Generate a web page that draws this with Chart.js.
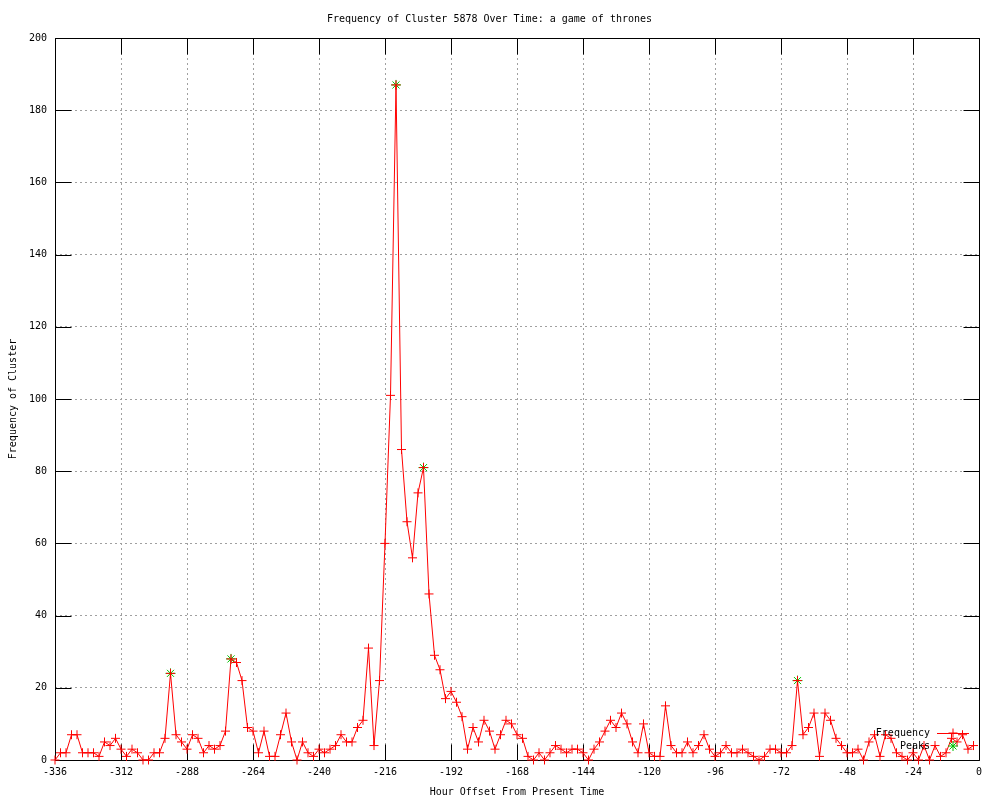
<!DOCTYPE html>
<html>
<head>
<meta charset='utf-8'>
<title>Frequency of Cluster 5878 Over Time</title>
<script src="https://cdn.jsdelivr.net/npm/chart.js@4.4.1/dist/chart.umd.min.js"></script>
<style>body { margin: 0; background: #fff; }</style>
</head>
<body>
<canvas id="chart" width="1000" height="800"></canvas>
<script>
var hours = [
  -336,-334,-332,-330,-328,-326,-324,-322,-320,-318,
  -316,-314,-312,-310,-308,-306,-304,-302,-300,-298,
  -296,-294,-292,-290,-288,-286,-284,-282,-280,-278,
  -276,-274,-272,-270,-268,-266,-264,-262,-260,-258,
  -256,-254,-252,-250,-248,-246,-244,-242,-240,-238,
  -236,-234,-232,-230,-228,-226,-224,-222,-220,-218,
  -216,-214,-212,-210,-208,-206,-204,-202,-200,-198,
  -196,-194,-192,-190,-188,-186,-184,-182,-180,-178,
  -176,-174,-172,-170,-168,-166,-164,-162,-160,-158,
  -156,-154,-152,-150,-148,-146,-144,-142,-140,-138,
  -136,-134,-132,-130,-128,-126,-124,-122,-120,-118,
  -116,-114,-112,-110,-108,-106,-104,-102,-100,-98,
  -96,-94,-92,-90,-88,-86,-84,-82,-80,-78,
  -76,-74,-72,-70,-68,-66,-64,-62,-60,-58,
  -56,-54,-52,-50,-48,-46,-44,-42,-40,-38,
  -36,-34,-32,-30,-28,-26,-24,-22,-20,-18,
  -16,-14,-12,-10,-8,-6,-4,-2
];
var freq = [
  0,2,2,7,7,2,2,2,1,5,
  4,6,3,1,3,2,0,0,2,2,
  6,24,7,5,3,7,6,2,4,3,
  4,8,28,27,22,9,8,2,8,1,
  1,7,13,5,0,5,2,1,3,2,
  3,4,7,5,5,9,11,31,4,22,
  60,101,187,86,66,56,74,81,46,29,
  25,17,19,16,12,3,9,5,11,8,
  3,7,11,10,7,6,1,0,2,0,
  2,4,3,2,3,3,2,0,3,5,
  8,11,9,13,10,5,2,10,2,1,
  1,15,4,2,2,5,2,4,7,3,
  1,2,4,2,2,3,2,1,0,1,
  3,3,2,2,4,22,7,9,13,1,
  13,11,6,4,2,2,3,0,5,7,
  1,7,6,2,1,0,2,0,4,0,
  4,1,2,6,5,7,3,4
];
var peakHours = [-294, -272, -212, -202, -66];
var peakValues = [24, 28, 187, 81, 22];

var freqPoints = hours.map(function(h, i) { return {x: h, y: freq[i]}; });
var peakPoints = peakHours.map(function(h, i) { return {x: h, y: peakValues[i]}; });

var MONO = "'DejaVu Sans Mono', 'Liberation Mono', monospace";
Chart.defaults.font.family = MONO;
Chart.defaults.font.size = 10;
Chart.defaults.color = '#000';

// gnuplot style frame with inward tick marks on all four sides
var framePlugin = {
  id: 'frame',
  beforeDatasetsDraw: function(chart) {
    var ctx = chart.ctx, a = chart.chartArea;
    var xs = chart.scales.x, ys = chart.scales.y;
    var L = Math.round(a.left) + 0.5, R = Math.round(a.right) + 0.5;
    var T = Math.round(a.top) + 0.5, B = Math.round(a.bottom) + 0.5;
    ctx.save();
    ctx.strokeStyle = '#000';
    ctx.lineWidth = 1;
    ctx.beginPath();
    xs.ticks.forEach(function(t) {
      var px = Math.round(xs.getPixelForValue(t.value)) + 0.5;
      ctx.moveTo(px, B); ctx.lineTo(px, B - 16);
      ctx.moveTo(px, T); ctx.lineTo(px, T + 16);
    });
    ys.ticks.forEach(function(t) {
      var py = Math.round(ys.getPixelForValue(t.value)) + 0.5;
      ctx.moveTo(L, py); ctx.lineTo(L + 16, py);
      ctx.moveTo(R, py); ctx.lineTo(R - 16, py);
    });
    ctx.rect(L, T, R - L, B - T);
    ctx.stroke();
    ctx.restore();
  }
};

// key inside the plot, bottom right
var keyPlugin = {
  id: 'key',
  afterDatasetsDraw: function(chart) {
    var ctx = chart.ctx;
    var rows = [
      {label: 'Frequency', color: '#ff0000', style: 'cross', line: true, y: 733},
      {label: 'Peaks', color: '#00c000', style: 'star', line: false, y: 746}
    ];
    rows.forEach(function(r) {
      ctx.save();
      ctx.font = '10px ' + MONO;
      ctx.textAlign = 'right';
      ctx.textBaseline = 'middle';
      ctx.fillStyle = '#000';
      ctx.fillText(r.label, 930, r.y);
      ctx.strokeStyle = r.color;
      ctx.lineWidth = 1;
      if (r.line) {
        ctx.beginPath();
        ctx.moveTo(937, r.y + 0.5);
        ctx.lineTo(969, r.y + 0.5);
        ctx.stroke();
      }
      ctx.strokeStyle = r.color;
      Chart.helpers.drawPoint(ctx, {pointStyle: r.style, radius: r.style === 'star' ? 5 : 4.5, borderWidth: 1}, 953, r.y);
      ctx.restore();
    });
  }
};

new Chart(document.getElementById('chart').getContext('2d'), {
  type: 'line',
  data: {
    datasets: [
      {
        label: 'Frequency',
        data: freqPoints,
        borderColor: '#ff0000',
        borderWidth: 1,
        tension: 0,
        fill: false,
        pointStyle: 'cross',
        pointRadius: 4.5,
        pointBorderColor: '#ff0000',
        pointBorderWidth: 1,
        clip: false
      },
      {
        label: 'Peaks',
        data: peakPoints,
        showLine: false,
        pointStyle: 'star',
        pointRadius: 5,
        pointBorderColor: '#00c000',
        pointBorderWidth: 1,
        clip: false
      }
    ]
  },
  options: {
    responsive: false,
    animation: false,
    devicePixelRatio: 1,
    layout: {padding: {top: 0, right: 21, bottom: 0, left: 0}},
    plugins: {
      legend: {display: false},
      tooltip: {enabled: false},
      title: {
        display: true,
        text: 'Frequency of Cluster 5878 Over Time: a game of thrones',
        font: {family: MONO, size: 10, weight: 'normal'},
        color: '#000',
        padding: {top: 13, bottom: 13}
      }
    },
    scales: {
      x: {
        type: 'linear',
        position: 'bottom',
        min: -336,
        max: 0,
        afterFit: function(s) { s.height = 40; },
        ticks: {stepSize: 24, padding: 6, maxRotation: 0, autoSkip: false},
        grid: {color: '#a0a0a0', lineWidth: 1, drawTicks: false},
        border: {display: false, dash: [2, 3]},
        title: {display: true, text: 'Hour Offset From Present Time', padding: {top: 0, bottom: 2}}
      },
      y: {
        min: 0,
        max: 200,
        afterFit: function(s) { s.width = 55; },
        ticks: {stepSize: 20, padding: 8},
        grid: {color: '#a0a0a0', lineWidth: 1, drawTicks: false},
        border: {display: false, dash: [2, 3]},
        title: {display: true, text: 'Frequency of Cluster', padding: {top: 7, bottom: 0}}
      }
    }
  },
  plugins: [framePlugin, keyPlugin]
});
</script>
</body>
</html>
